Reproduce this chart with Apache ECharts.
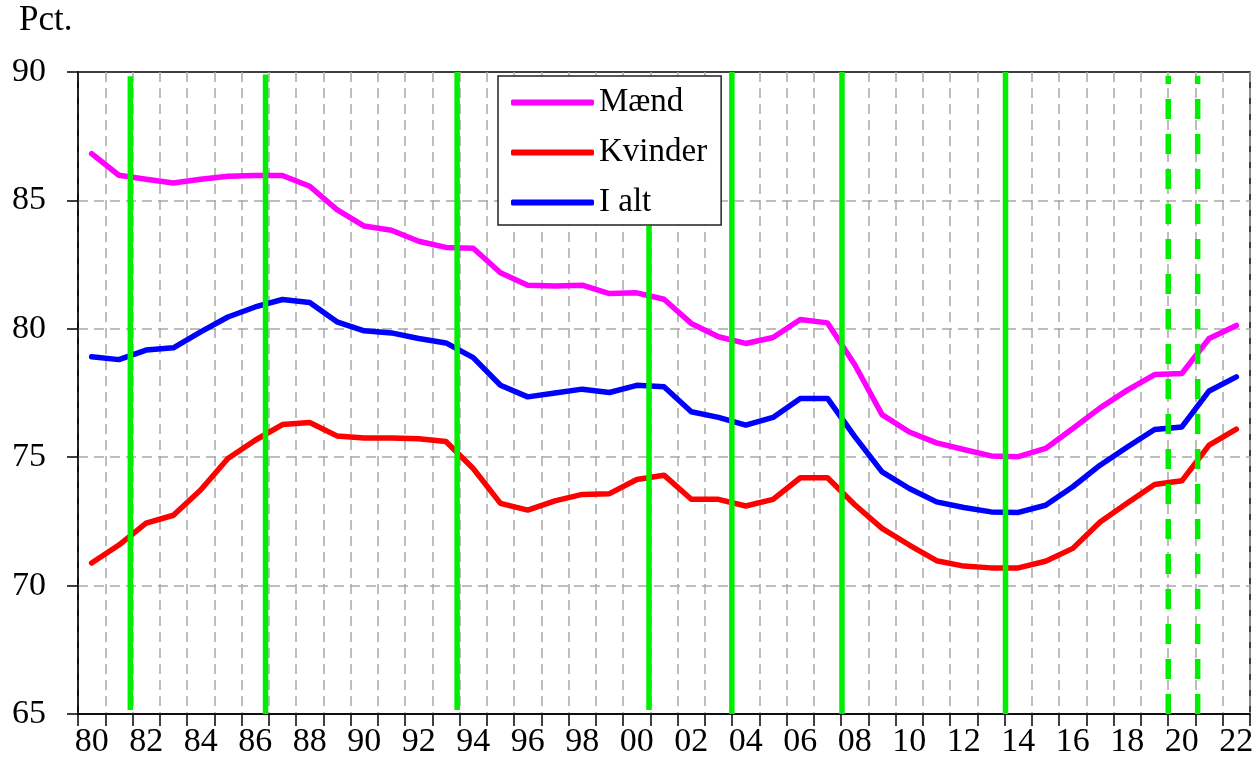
<!DOCTYPE html>
<html>
<head>
<meta charset="utf-8">
<script src="https://cdn.jsdelivr.net/npm/echarts@6/dist/echarts.min.js"></script>
<style>
  html, body { margin: 0; padding: 0; background: #fff; }
  #chart { width: 1258px; height: 759px; }
</style>
</head>
<body>
<div id="chart"></div>
<script>
// years as shown on the axis (1980-2022)
const years = ['80','81','82','83','84','85','86','87','88','89',
               '90','91','92','93','94','95','96','97','98','99',
               '00','01','02','03','04','05','06','07','08','09',
               '10','11','12','13','14','15','16','17','18','19',
               '20','21','22'];

const maend = [86.82, 85.98, 85.82, 85.68, 85.82, 85.94, 85.97, 85.97, 85.55, 84.64,
               84.00, 83.84, 83.41, 83.17, 83.14, 82.18, 81.70, 81.67, 81.70, 81.37,
               81.40, 81.15, 80.21, 79.69, 79.43, 79.66, 80.36, 80.23, 78.60, 76.66,
               75.98, 75.56, 75.30, 75.05, 75.02, 75.34, 76.12, 76.92, 77.61, 78.22,
               78.26, 79.62, 80.13];

const kvinder = [70.88, 71.58, 72.43, 72.74, 73.72, 74.95, 75.66, 76.27, 76.35, 75.83,
                 75.75, 75.75, 75.72, 75.61, 74.56, 73.20, 72.94, 73.30, 73.55, 73.58,
                 74.13, 74.30, 73.36, 73.36, 73.10, 73.36, 74.20, 74.20, 73.15, 72.23,
                 71.58, 70.97, 70.76, 70.69, 70.69, 70.95, 71.45, 72.48, 73.22, 73.94,
                 74.08, 75.47, 76.09];

const iAlt = [78.91, 78.80, 79.17, 79.26, 79.88, 80.46, 80.85, 81.14, 81.02, 80.27,
              79.92, 79.84, 79.62, 79.45, 78.88, 77.80, 77.35, 77.50, 77.65, 77.52,
              77.80, 77.74, 76.77, 76.55, 76.25, 76.55, 77.29, 77.29, 75.80, 74.43,
              73.78, 73.26, 73.04, 72.87, 72.85, 73.13, 73.85, 74.69, 75.40, 76.08,
              76.18, 77.58, 78.13];

// green markers (time in years, start of 1980 = 1980)
const markerTimes   = [1981.92, 1986.88, 1993.91, 2000.95, 2003.99, 2008.03, 2014.03, 2020.00, 2021.08];
const markerTops    = [89.83, 89.9, 90, 84.0, 90, 90, 90, 89.85, 89.85];
const markerBottoms = [65.16, 65, 65.16, 65.16, 65, 65, 65, 65, 65];
const markerDashed  = [false, false, false, false, false, false, false, true, true];

const FONT = '"Liberation Serif", "Times New Roman", serif';
const GREEN = '#00ee00';

const chart = echarts.init(document.getElementById('chart'));

const markerSeries = markerTimes.map((t, i) => ({
    type: 'line',
    xAxisIndex: 1,
    yAxisIndex: 0,
    symbol: 'none',
    silent: true,
    z: 3,
    clip: false,
    lineStyle: {
        color: GREEN,
        width: 5.5,
        type: markerDashed[i] ? [20, 15] : 'solid'
    },
    data: [[t, markerBottoms[i]], [t, markerTops[i]]]
}));

const dataSeries = [
    { name: 'Mænd', values: maend, color: '#ff00ff' },
    { name: 'Kvinder', values: kvinder, color: '#ff0000' },
    { name: 'I alt', values: iAlt, color: '#0000ff' }
].map((s) => ({
    name: s.name,
    type: 'line',
    xAxisIndex: 0,
    symbol: 'none',
    z: 2,
    color: s.color,
    lineStyle: { color: s.color, width: 5.5, cap: 'round', join: 'round' },
    data: s.values
}));

chart.setOption({
    animation: false,
    backgroundColor: '#fff',
    textStyle: { fontFamily: FONT, color: '#000' },
    title: {
        text: 'Pct.',
        left: 19,
        top: 3,
        padding: 0,
        textStyle: { fontFamily: FONT, fontSize: 35, fontWeight: 'normal', color: '#000' }
    },
    legend: {
        data: ['Mænd', 'Kvinder', 'I alt'],
        orient: 'vertical',
        left: 498,
        top: 76,
        padding: [10, 14, 6, 13],
        itemGap: 17,
        itemWidth: 83,
        itemHeight: 6,
        icon: 'roundRect',
        backgroundColor: '#fff',
        borderColor: '#222',
        borderWidth: 1.5,
        borderRadius: 0,
        textStyle: { fontFamily: FONT, fontSize: 33, color: '#000' },
        selectedMode: false
    },
    grid: {
        left: 78,
        right: 8,
        top: 72,
        bottom: 45,
        show: true,
        borderColor: '#000',
        borderWidth: 1.5,
        containLabel: false,
        outerBoundsMode: 'none'
    },
    xAxis: [
        {
            type: 'category',
            data: years,
            boundaryGap: true,
            axisLine: { lineStyle: { color: '#000', width: 1.5 } },
            axisTick: { show: true, interval: 0, length: 12, lineStyle: { color: '#000', width: 1.5 } },
            axisLabel: { interval: 1, margin: 11, fontFamily: FONT, fontSize: 34, color: '#000' },
            splitLine: {
                show: true,
                interval: 0,
                lineStyle: { color: '#a8a8a8', width: 1.5, type: [10, 6] }
            }
        },
        {
            type: 'value',
            min: 1980,
            max: 2023,
            show: false,
            splitLine: { show: false }
        }
    ],
    yAxis: {
        type: 'value',
        min: 65,
        max: 90,
        interval: 5,
        axisLine: { show: true, lineStyle: { color: '#000', width: 1.5 } },
        axisTick: { show: true, length: 11, lineStyle: { color: '#000', width: 1.5 } },
        axisLabel: { margin: 32, align: 'right', fontFamily: FONT, fontSize: 34, color: '#000' },
        splitLine: {
            show: true,
            showMinLine: false,
            showMaxLine: false,
            lineStyle: { color: '#a8a8a8', width: 1.5, type: [10, 6] }
        }
    },
    series: dataSeries.concat(markerSeries)
});
</script>
</body>
</html>
